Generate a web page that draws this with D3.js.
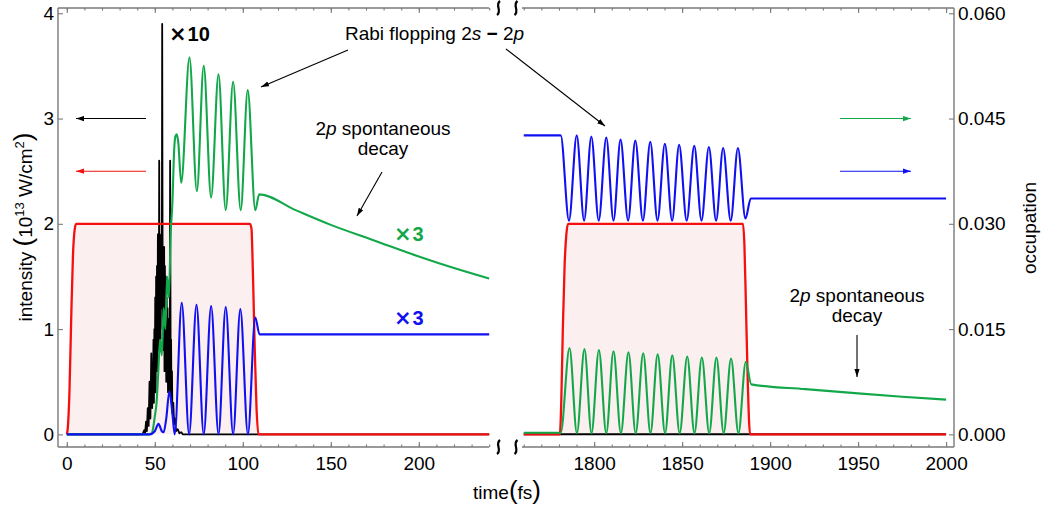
<!DOCTYPE html>
<html><head><meta charset="utf-8">
<script src="https://cdn.jsdelivr.net/npm/d3@7"></script>
<style>
body{margin:0;background:#fff;}
svg text{font-family:"Liberation Sans",Arial,Helvetica,sans-serif;}
</style></head><body>
<svg id="chart" width="1043" height="510"></svg>
<script>
// ---------------- data ----------------
const leftDomain = [-5, 240];
const rightDomain = [1759, 2004.5];
const intensityDomain = [-0.12, 4.05];
const occupationDomain = [-0.0018, 0.06075];
const intensityTicks = [0, 1, 2, 3, 4];
const occupationTicks = [0, 0.015, 0.030, 0.045, 0.060];
const leftMajorTicks = [0, 50, 100, 150, 200];
const rightMajorTicks = [1800, 1850, 1900, 1950, 2000];
const leftMinorTicks = d3.range(0, 241, 10);
const rightMinorTicks = d3.range(1760, 2001, 10);
const blackScale = 10;   // "×10"
const occLeftScale = 3;  // "×3"

// laser intensity (10^13 W/cm^2) [time fs, value]
const redLeft = [[0,0],[0.5,0.05],[1.5,0.4],[2.5,1.1],[3.5,1.7],[4.5,1.95],[5.3,2],[6.5,2],[104,2],[104.9,1.96],[105.8,1.5],[106.8,0.8],[107.8,0.25],[108.9,0],[240,0]];
const redRight = [[1760,0],[1780.5,0],[1781.3,0.3],[1782.2,1.0],[1783.2,1.6],[1784.2,1.9],[1785.2,2],[1884.6,2],[1885.4,1.8],[1886.3,1.2],[1887.3,0.5],[1888.6,0],[2000,0]];

// x-ray pulse intensity (true values, drawn ×10)
const blackLeft = [[0,0],[43,0],[44,0.004],[44.5,0.001],[45,0.012],[45.5,0.003],[46,0.025],[46.5,0.008],[47,0.05],[47.5,0.015],[48,0.077],[48.5,0.025],[49,0.05],[49.25,0.09],[49.5,0.03],[49.75,0.1],[50,0.05],[50.25,0.13],[50.5,0.04],[50.75,0.15],[51,0.07],[51.25,0.16],[51.5,0.06],[51.75,0.19],[52,0.12],[52.25,0.08],[52.5,0.26],[52.75,0.1],[53,0.19],[53.25,0.09],[53.5,0.17],[53.75,0.12],[54,0.15],[54.2,0.39],[54.5,0.1],[54.75,0.11],[55,0.08],[55.3,0.178],[55.5,0.06],[55.75,0.16],[56,0.07],[56.25,0.15],[56.5,0.05],[56.75,0.13],[57,0.06],[57.25,0.12],[57.5,0.04],[57.75,0.11],[58,0.05],[58.25,0.1],[58.5,0.04],[58.7,0.26],[59,0.07],[59.25,0.09],[59.5,0.03],[59.75,0.06],[60,0.02],[60.5,0.03],[61,0.01],[61.5,0.015],[62,0.003],[63,0.005],[64,0.001],[65,0.002],[66,0],[240,0]];
const blackRight = [[1760,0],[2000,0]];

// 2p occupation (true values; left panel drawn ×3)
const greenLeft = [[0,0],[47,0],[48.5,0.0001],[50,0.00085],[51,0.0015],[52,0.003],[53,0.0045],[54,0.00375],[55,0.006],[56,0.005],[57,0.0075],[58,0.0065],[59,0.0095],[60,0.011],[61,0.0135],[61.7,0.01415],[62.5,0.01425],[63.3,0.0139],[65,0.01195],[69.7,0.0179],[73.9,0.01155],[77.8,0.0175],[82,0.01125],[86.2,0.0171],[90.3,0.01065],[94.5,0.01675],[98.8,0.01065],[102.8,0.01635],[107.1,0.01065],[109.3,0.0114],[130,0.01065],[150,0.00995],[175,0.0092],[200,0.00845],[220,0.0079],[240,0.0074]];
const greenRight = [[1760,0.000225],[1781,0.000225],[1786,0.0123],[1790.2,0.00015],[1794.5,0.01215],[1798.5,0.00015],[1802.7,0.012],[1806.9,0.00015],[1811,0.01185],[1815.2,0.00015],[1819.5,0.0117],[1823.6,0.00015],[1827.9,0.01155],[1832,0.00015],[1836.1,0.0114],[1840.3,0.00015],[1844.4,0.01125],[1848.6,0.00015],[1852.9,0.0111],[1857,0.00015],[1861.2,0.01095],[1865.4,0.00015],[1869.5,0.01095],[1873.6,0.00015],[1877.8,0.0108],[1882,0.00015],[1886.2,0.01035],[1889.3,0.007125],[1920,0.00644],[1950,0.00584],[1975,0.00537],[2000,0.00495]];

// 2s occupation (true values; left panel drawn ×3)
const blueLeft = [[0,0],[47,0],[50,0.00015],[52.1,0.0005],[54,0.00015],[55,0.0001],[56.5,0.00075],[58.3,0.00205],[60,0.001],[61.3,0],[65.3,0.00625],[69.5,0],[73.7,0.00615],[77.8,0],[82,0.0061],[86.2,0],[90.3,0.00605],[94.5,0],[98.6,0.00595],[102.9,0],[107.1,0.00555],[109.5,0.00475],[240,0.00475]];
const blueRight = [[1760,0.0426],[1781,0.0426],[1785.7,0.03045],[1790.1,0.0426],[1794.3,0.03045],[1798.4,0.04245],[1802.6,0.03045],[1806.9,0.0423],[1811,0.03045],[1815,0.042],[1819.3,0.03045],[1823.4,0.04185],[1827.7,0.03045],[1831.9,0.0417],[1836,0.03045],[1840.2,0.0414],[1844.3,0.03045],[1848.3,0.04125],[1852.6,0.03045],[1856.9,0.0411],[1861,0.03045],[1865.2,0.04095],[1869.3,0.03045],[1873.3,0.0408],[1877.6,0.03045],[1881.7,0.0408],[1886,0.03075],[1889,0.0336],[2000,0.0336]];

// ---------------- drawing ----------------
const svg = d3.select("#chart");
const C = {red:"#f41010", green:"#12a84a", blue:"#1010f2", black:"#000", fill:"#fcefef", axis:"#7a7a7a"};
const xL = d3.scaleLinear().domain(leftDomain).range([58, 489.2]);
const xR = d3.scaleLinear().domain(rightDomain).range([522, 954]);
const yI = d3.scaleLinear().domain(intensityDomain).range([447, 8]);
const yO = d3.scaleLinear().domain(occupationDomain).range([447, 8]);
const yTop = 8, yBot = 447;

const defs = svg.append("defs");
function marker(id, color){
  defs.append("marker").attr("id", id).attr("markerUnits","userSpaceOnUse")
    .attr("markerWidth", 9).attr("markerHeight", 6).attr("refX", 8).attr("refY", 3)
    .attr("orient","auto").append("path").attr("d","M0,0.4 L8,3 L0,5.6 Z").attr("fill", color);
}
marker("mk-black", "#000"); marker("mk-red", C.red); marker("mk-green", C.green); marker("mk-blue", C.blue);

// fills under laser pulse
function area(x){ return d3.area().x(d=>x(d[0])).y0(yI(0)).y1(d=>yI(d[1])).curve(d3.curveMonotoneX); }
svg.append("path").attr("d", area(xL)(redLeft)).attr("fill", C.fill);
svg.append("path").attr("d", area(xR)(redRight)).attr("fill", C.fill);

// axes
const fs = 19;
function styleAxis(g, labels){
  g.select(".domain").remove();
  g.selectAll(".tick line").attr("stroke", C.axis).attr("stroke-width", 1.1);
  g.selectAll(".tick text").attr("fill", "#000").style("font-size", fs+"px")
    .style("font-family", '"Liberation Sans",Arial,sans-serif');
  if(!labels) g.selectAll(".tick text").remove();
}
[[xL, leftMinorTicks, leftMajorTicks],[xR, rightMinorTicks, rightMajorTicks]].forEach(([x, minor, major])=>{
  svg.append("g").attr("transform",`translate(0,${yBot})`).call(d3.axisBottom(x).tickValues(minor).tickSize(-2.6).tickSizeOuter(0)).call(g=>styleAxis(g,false));
  svg.append("g").attr("transform",`translate(0,${yBot})`).call(d3.axisBottom(x).tickValues(major).tickSize(-5).tickSizeOuter(0).tickPadding(10).tickFormat(d3.format("d"))).call(g=>styleAxis(g,true));
  svg.append("g").attr("transform",`translate(0,${yTop})`).call(d3.axisTop(x).tickValues(minor).tickSize(-2.6).tickSizeOuter(0)).call(g=>styleAxis(g,false));
  svg.append("g").attr("transform",`translate(0,${yTop})`).call(d3.axisTop(x).tickValues(major).tickSize(-5).tickSizeOuter(0)).call(g=>styleAxis(g,false));
});
svg.append("g").attr("transform","translate(58,0)").call(d3.axisLeft(yI).tickValues(intensityTicks).tickSize(-5).tickSizeOuter(0).tickPadding(4).tickFormat(d3.format("d"))).call(g=>styleAxis(g,true));
svg.append("g").attr("transform","translate(954,0)").call(d3.axisRight(yO).tickValues(occupationTicks).tickSize(-5).tickSizeOuter(0).tickPadding(4).tickFormat(d3.format(".3f"))).call(g=>styleAxis(g,true));

// frame
const frame = svg.append("g").attr("stroke", C.axis).attr("stroke-width", 1.4).attr("fill","none");
frame.append("path").attr("d", `M58,${yTop}V${yBot}M954,${yTop}V${yBot}`);
frame.append("path").attr("d", `M58,${yTop}H489.2M522,${yTop}H954M58,${yBot}H489.2M522,${yBot}H954`);
// break marks
[498.5, 516].forEach(bx=>{
  [yTop, yBot].forEach(by=>{
    svg.append("path").attr("d", `M${bx+1.5},${by-7} C${bx-4},${by-3} ${bx+4},${by+3} ${bx-1.5},${by+7}`)
      .attr("fill","none").attr("stroke","#000").attr("stroke-width",2.2);
  });
});

// lines
function line(x, y, k, curve){ return d3.line().x(d=>x(d[0])).y(d=>y(d[1]*k)).curve(curve); }
function draw(d, color, w){ svg.append("path").attr("d", d).attr("fill","none").attr("stroke", color).attr("stroke-width", w).attr("stroke-linejoin","round"); }
draw(line(xL, yI, blackScale, d3.curveLinear)(blackLeft), C.black, 1.8);
draw(line(xR, yI, 1, d3.curveLinear)(blackRight), C.black, 2);
draw(line(xL, yI, 1, d3.curveMonotoneX)(redLeft), C.red, 2.3);
draw(line(xR, yI, 1, d3.curveMonotoneX)(redRight), C.red, 2.3);
draw(line(xL, yO, occLeftScale, d3.curveMonotoneX)(greenLeft), C.green, 2.1);
draw(line(xR, yO, 1, d3.curveMonotoneX)(greenRight), C.green, 2.1);
draw(line(xL, yO, occLeftScale, d3.curveMonotoneX)(blueLeft), C.blue, 2.1);
draw(line(xR, yO, 1, d3.curveMonotoneX)(blueRight), C.blue, 2.1);

// legend arrows
function arrow(x1,y1,x2,y2,color,mk){
  svg.append("line").attr("x1",x1).attr("y1",y1).attr("x2",x2).attr("y2",y2)
    .attr("stroke",color).attr("stroke-width",1.1).attr("marker-end",`url(#${mk})`);
}
arrow(146, yI(3), 76, yI(3), "#000", "mk-black");
arrow(146, yI(2.5), 76, yI(2.5), C.red, "mk-red");
arrow(840, yO(0.045), 911, yO(0.045), C.green, "mk-green");
arrow(840, yO(0.0375), 911, yO(0.0375), C.blue, "mk-blue");
// annotation arrows
arrow(348, 50, 261, 87, "#000", "mk-black");
arrow(506, 49, 605, 126, "#000", "mk-black");
arrow(382, 172, 357, 216, "#000", "mk-black");
arrow(857, 335, 857, 377, "#000", "mk-black");

// texts
function txt(x, y, anchor){ return svg.append("text").attr("x",x).attr("y",y).attr("text-anchor",anchor||"start").style("font-size",fs+"px").attr("fill","#000"); }
function times(x, y, label, color){
  const t = txt(x, y).attr("fill", color).style("font-weight","bold").style("font-size","20px");
  t.append("tspan").style("font-family",'"DejaVu Sans",sans-serif').style("font-size","21px").text("×");
  t.append("tspan").attr("dx", 1).text(label);
}
times(169, 41, "10", "#000");
{ const t = txt(345, 40);
  t.append("tspan").text("Rabi flopping 2");
  t.append("tspan").attr("font-style","italic").text("s");
  t.append("tspan").text(" ");
  t.append("tspan").attr("font-weight","bold").text("−");
  t.append("tspan").text(" 2");
  t.append("tspan").attr("font-style","italic").text("p"); }
function decay(cx, y1, y2){
  const t = txt(cx, y1, "middle");
  t.append("tspan").text("2");
  t.append("tspan").attr("font-style","italic").text("p");
  t.append("tspan").text(" spontaneous");
  txt(cx, y2, "middle").text("decay");
}
decay(383, 135, 155);
decay(857, 302, 322);
times(394, 241, "3", C.green);
times(394, 325, "3", C.blue);

// axis titles
{ const t = svg.append("text").attr("transform","translate(32,227) rotate(-90)").attr("text-anchor","middle").style("font-size",fs+"px");
  t.append("tspan").text("intensity ");
  t.append("tspan").style("font-size","26px").text("(");
  t.append("tspan").text("10");
  t.append("tspan").style("font-size","13px").attr("dy",-8).text("13");
  t.append("tspan").attr("dy",8).text(" W/cm");
  t.append("tspan").style("font-size","13px").attr("dy",-8).text("2");
  t.append("tspan").attr("dy",8).style("font-size","26px").text(")"); }
svg.append("text").attr("transform","translate(1036,228) rotate(-90)").attr("text-anchor","middle").style("font-size",fs+"px").text("occupation");
{ const t = svg.append("text").attr("x",507).attr("y",499).attr("text-anchor","middle").style("font-size",fs+"px");
  t.append("tspan").text("time");
  t.append("tspan").style("font-size","26px").text("(");
  t.append("tspan").text("fs");
  t.append("tspan").style("font-size","26px").text(")"); }
</script>
</body></html>
